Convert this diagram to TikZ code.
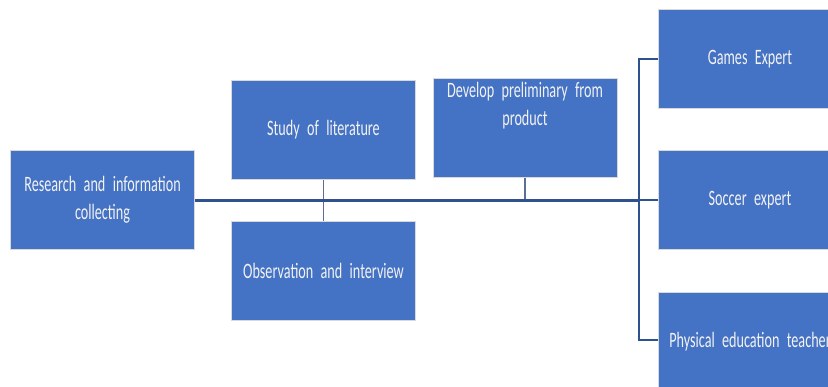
\documentclass[tikz,border=0pt]{standalone}
\usepackage{fontspec}
\setmainfont{Carlito}[FakeStretch=0.645]
\newcommand\bxfont{\fontsize{22}{28}\selectfont\spaceskip=3pt\relax}
\definecolor{boxblue}{HTML}{4472C4}
\definecolor{boxedge}{HTML}{D9D9D9}
\definecolor{linemain}{HTML}{2F528F}
\definecolor{linestub}{HTML}{5B6E94}
\definecolor{txt}{HTML}{F2F2F2}
\tikzset{
  box/.style={draw=boxedge, line width=1pt, fill=boxblue, text=txt,
    minimum width=184pt, minimum height=99pt, inner sep=3pt,
    align=center, text width=176pt, font=\bxfont},
  mainline/.style={draw=linemain, line width=3pt},
  stubline/.style={draw=linestub, line width=1.8pt},
  branchline/.style={draw=linemain, line width=1.8pt}
}
\begin{document}
\begin{tikzpicture}[x=1pt,y=-1pt]
\useasboundingbox (0,0) rectangle (828,386);
\clip (0,0) rectangle (828,386);
\fill[white] (0,0) rectangle (828,386);
\node[box] (res) at (102.5,200) {Research and information\\collecting};
\node[box] (study) at (323.5,130) {Study of literature};
\node[box] (obs) at (323.5,270.5) {Observation and interview};
\node[box, anchor=north] (dev) at (525,78)
  {\parbox[t][91pt][t]{176pt}{\centering Develop preliminary from\\product}};
\node[box] (games) at (750,59) {Games Expert};
\node[box] (soccer) at (750,200) {Soccer expert};
\node[box] (phys) at (750,342) {Physical education teacher};
\coordinate (spine) at (639,200);
\coordinate (spinetop) at (639,59);
\coordinate (spinebot) at (639,340);
\draw[stubline] (study.south) -- (obs.north);
\draw[stubline] (dev.south) -- (dev.south |- spine);
\draw[mainline] (res.east) -- (spine);
\draw[branchline] (games.west) -- (spinetop) -- (spinebot) -- (phys.west |- spinebot);
\draw[branchline] (spine) -- (soccer.west);
\end{tikzpicture}
\end{document}
